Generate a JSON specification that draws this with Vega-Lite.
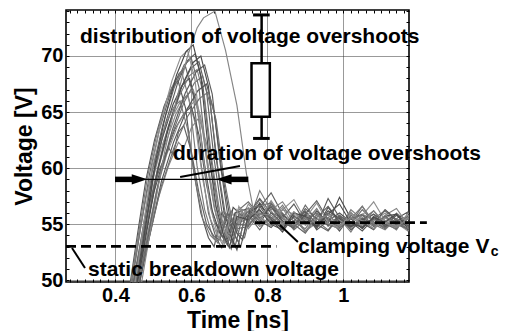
{
"$schema":"https://vega.github.io/schema/vega-lite/v6.json",
"width":343,"height":272,
"autosize":{"type":"none"},
"padding":{"left":66,"top":10,"right":96,"bottom":49},
"background":"white",
"config":{"view":{"stroke":"#000","strokeWidth":1.6},"font":"Liberation Sans",
"axis":{"labelFont":"Liberation Sans","titleFont":"Liberation Sans","labelFontWeight":"bold","titleFontWeight":"bold","labelColor":"#000","titleColor":"#000","tickColor":"#000","domain":false,"labelOverlap":false,"labelBound":false,"labelFlush":false}},
"datasets":{
"waves":[
{"w":1,"t":0.425,"v":47},{"w":1,"t":0.44,"v":50},{"w":1,"t":0.46,"v":54.5},{"w":1,"t":0.48,"v":58.9},{"w":1,"t":0.503,"v":62.5},{"w":1,"t":0.528,"v":65.5},{"w":1,"t":0.549,"v":67.2},{"w":1,"t":0.565,"v":67.8},{"w":1,"t":0.585,"v":65.3},{"w":1,"t":0.605,"v":60},{"w":1,"t":0.625,"v":56},{"w":1,"t":0.645,"v":53.8},{"w":1,"t":0.66,"v":53},{"w":1,"t":0.68,"v":56},{"w":1,"t":0.71,"v":54.6},
{"w":1,"t":0.75,"v":56.2},{"w":1,"t":0.78,"v":55},{"w":1,"t":0.81,"v":56.8},{"w":1,"t":0.84,"v":55.3},{"w":1,"t":0.87,"v":54.6},{"w":1,"t":0.9,"v":55.9},{"w":1,"t":0.93,"v":54.8},{"w":1,"t":0.96,"v":55.6},{"w":1,"t":0.99,"v":54.4},{"w":1,"t":1.02,"v":55.8},{"w":1,"t":1.05,"v":55.1},{"w":1,"t":1.08,"v":54.5},{"w":1,"t":1.11,"v":55.7},{"w":1,"t":1.14,"v":54.9},{"w":1,"t":1.17,"v":55.5},{"w":1,"t":1.2,"v":54.6},
{"w":2,"t":0.427,"v":47},{"w":2,"t":0.442,"v":50},{"w":2,"t":0.463,"v":54.6},{"w":2,"t":0.485,"v":59.3},{"w":2,"t":0.509,"v":63},{"w":2,"t":0.535,"v":66.1},{"w":2,"t":0.558,"v":67.9},{"w":2,"t":0.575,"v":68.5},{"w":2,"t":0.595,"v":66},{"w":2,"t":0.615,"v":60.2},{"w":2,"t":0.635,"v":56.3},{"w":2,"t":0.655,"v":54},{"w":2,"t":0.67,"v":53.3},{"w":2,"t":0.69,"v":55.8},{"w":2,"t":0.715,"v":55},
{"w":2,"t":0.75,"v":55.5},{"w":2,"t":0.78,"v":57.2},{"w":2,"t":0.81,"v":55.6},{"w":2,"t":0.84,"v":54.5},{"w":2,"t":0.87,"v":56.1},{"w":2,"t":0.9,"v":55.2},{"w":2,"t":0.93,"v":56.4},{"w":2,"t":0.96,"v":54.8},{"w":2,"t":0.99,"v":55.5},{"w":2,"t":1.02,"v":54.3},{"w":2,"t":1.05,"v":55.9},{"w":2,"t":1.08,"v":55.4},{"w":2,"t":1.11,"v":54.7},{"w":2,"t":1.14,"v":56},{"w":2,"t":1.17,"v":55.2},{"w":2,"t":1.2,"v":54.8},
{"w":3,"t":0.43,"v":47},{"w":3,"t":0.445,"v":50},{"w":3,"t":0.467,"v":54.8},{"w":3,"t":0.49,"v":59.5},{"w":3,"t":0.515,"v":63.3},{"w":3,"t":0.543,"v":66.5},{"w":3,"t":0.567,"v":68.4},{"w":3,"t":0.585,"v":69},{"w":3,"t":0.605,"v":66.5},{"w":3,"t":0.625,"v":60.5},{"w":3,"t":0.645,"v":56},{"w":3,"t":0.665,"v":53.8},{"w":3,"t":0.68,"v":52.9},{"w":3,"t":0.7,"v":55.6},{"w":3,"t":0.72,"v":54.6},
{"w":3,"t":0.75,"v":54.8},{"w":3,"t":0.78,"v":56.5},{"w":3,"t":0.81,"v":57.8},{"w":3,"t":0.84,"v":55.9},{"w":3,"t":0.87,"v":55},{"w":3,"t":0.9,"v":54.2},{"w":3,"t":0.93,"v":55.6},{"w":3,"t":0.96,"v":56.6},{"w":3,"t":0.99,"v":55.3},{"w":3,"t":1.02,"v":54.7},{"w":3,"t":1.05,"v":55.4},{"w":3,"t":1.08,"v":56.2},{"w":3,"t":1.11,"v":55},{"w":3,"t":1.14,"v":54.6},{"w":3,"t":1.17,"v":55.8},{"w":3,"t":1.2,"v":55.3},
{"w":4,"t":0.432,"v":47},{"w":4,"t":0.447,"v":50},{"w":4,"t":0.47,"v":54.1},{"w":4,"t":0.493,"v":58.3},{"w":4,"t":0.519,"v":61.6},{"w":4,"t":0.547,"v":64.4},{"w":4,"t":0.571,"v":65.9},{"w":4,"t":0.59,"v":66.5},{"w":4,"t":0.61,"v":64},{"w":4,"t":0.63,"v":59},{"w":4,"t":0.65,"v":55.5},{"w":4,"t":0.67,"v":53.9},{"w":4,"t":0.685,"v":53.4},{"w":4,"t":0.705,"v":56.2},{"w":4,"t":0.725,"v":55},
{"w":4,"t":0.75,"v":56.8},{"w":4,"t":0.78,"v":55.7},{"w":4,"t":0.81,"v":54.9},{"w":4,"t":0.84,"v":56.3},{"w":4,"t":0.87,"v":57.2},{"w":4,"t":0.9,"v":55.4},{"w":4,"t":0.93,"v":54.7},{"w":4,"t":0.96,"v":55.5},{"w":4,"t":0.99,"v":54.9},{"w":4,"t":1.02,"v":56.1},{"w":4,"t":1.05,"v":54.8},{"w":4,"t":1.08,"v":55.3},{"w":4,"t":1.11,"v":56},{"w":4,"t":1.14,"v":55.1},{"w":4,"t":1.17,"v":54.4},{"w":4,"t":1.2,"v":55.6},
{"w":5,"t":0.435,"v":47},{"w":5,"t":0.45,"v":50},{"w":5,"t":0.473,"v":54.5},{"w":5,"t":0.496,"v":59},{"w":5,"t":0.523,"v":62.6},{"w":5,"t":0.552,"v":65.7},{"w":5,"t":0.576,"v":67.4},{"w":5,"t":0.595,"v":68},{"w":5,"t":0.615,"v":65.5},{"w":5,"t":0.635,"v":60.3},{"w":5,"t":0.655,"v":56.2},{"w":5,"t":0.675,"v":54.2},{"w":5,"t":0.69,"v":53.5},{"w":5,"t":0.71,"v":56.5},
{"w":5,"t":0.75,"v":55.2},{"w":5,"t":0.78,"v":56.9},{"w":5,"t":0.81,"v":55.4},{"w":5,"t":0.84,"v":54.3},{"w":5,"t":0.87,"v":55.8},{"w":5,"t":0.9,"v":55},{"w":5,"t":0.93,"v":56.2},{"w":5,"t":0.96,"v":55.1},{"w":5,"t":0.99,"v":57.4},{"w":5,"t":1.02,"v":55.5},{"w":5,"t":1.05,"v":54.6},{"w":5,"t":1.08,"v":55.7},{"w":5,"t":1.11,"v":54.8},{"w":5,"t":1.14,"v":55.5},{"w":5,"t":1.17,"v":56.1},{"w":5,"t":1.2,"v":54.9},
{"w":6,"t":0.435,"v":47},{"w":6,"t":0.45,"v":50},{"w":6,"t":0.474,"v":55},{"w":6,"t":0.498,"v":59.9},{"w":6,"t":0.525,"v":63.9},{"w":6,"t":0.555,"v":67.2},{"w":6,"t":0.581,"v":69.2},{"w":6,"t":0.6,"v":69.8},{"w":6,"t":0.62,"v":67.2},{"w":6,"t":0.64,"v":61},{"w":6,"t":0.66,"v":56.5},{"w":6,"t":0.68,"v":54},{"w":6,"t":0.695,"v":53.1},{"w":6,"t":0.715,"v":56},
{"w":6,"t":0.75,"v":57},{"w":6,"t":0.78,"v":55.8},{"w":6,"t":0.81,"v":56.5},{"w":6,"t":0.84,"v":55.2},{"w":6,"t":0.87,"v":54.8},{"w":6,"t":0.9,"v":56.7},{"w":6,"t":0.93,"v":55.3},{"w":6,"t":0.96,"v":54.5},{"w":6,"t":0.99,"v":55.8},{"w":6,"t":1.02,"v":55},{"w":6,"t":1.05,"v":56.3},{"w":6,"t":1.08,"v":55.2},{"w":6,"t":1.11,"v":54.6},{"w":6,"t":1.14,"v":55.4},{"w":6,"t":1.17,"v":54.9},{"w":6,"t":1.2,"v":55.9},
{"w":7,"t":0.437,"v":47},{"w":7,"t":0.452,"v":50},{"w":7,"t":0.476,"v":54.3},{"w":7,"t":0.501,"v":58.5},{"w":7,"t":0.529,"v":61.9},{"w":7,"t":0.559,"v":64.8},{"w":7,"t":0.585,"v":66.4},{"w":7,"t":0.605,"v":67},{"w":7,"t":0.625,"v":64.5},{"w":7,"t":0.645,"v":59.5},{"w":7,"t":0.665,"v":55.8},{"w":7,"t":0.685,"v":54},{"w":7,"t":0.7,"v":53.6},{"w":7,"t":0.72,"v":56.3},
{"w":7,"t":0.75,"v":54.6},{"w":7,"t":0.78,"v":55.9},{"w":7,"t":0.81,"v":56.3},{"w":7,"t":0.84,"v":57},{"w":7,"t":0.87,"v":55.5},{"w":7,"t":0.9,"v":54.4},{"w":7,"t":0.93,"v":55.1},{"w":7,"t":0.96,"v":56},{"w":7,"t":0.99,"v":55.4},{"w":7,"t":1.02,"v":54.8},{"w":7,"t":1.05,"v":55.6},{"w":7,"t":1.08,"v":54.9},{"w":7,"t":1.11,"v":55.8},{"w":7,"t":1.14,"v":56.4},{"w":7,"t":1.17,"v":55},{"w":7,"t":1.2,"v":54.5},
{"w":8,"t":0.44,"v":47},{"w":8,"t":0.455,"v":50},{"w":8,"t":0.48,"v":55.1},{"w":8,"t":0.505,"v":60.1},{"w":8,"t":0.533,"v":64.1},{"w":8,"t":0.564,"v":67.6},{"w":8,"t":0.59,"v":69.6},{"w":8,"t":0.61,"v":70.2},{"w":8,"t":0.63,"v":67.5},{"w":8,"t":0.65,"v":61.2},{"w":8,"t":0.67,"v":56.4},{"w":8,"t":0.69,"v":53.9},{"w":8,"t":0.705,"v":52.8},{"w":8,"t":0.725,"v":55.9},
{"w":8,"t":0.75,"v":55.8},{"w":8,"t":0.78,"v":54.5},{"w":8,"t":0.81,"v":56},{"w":8,"t":0.84,"v":55.6},{"w":8,"t":0.87,"v":56.8},{"w":8,"t":0.9,"v":55.1},{"w":8,"t":0.93,"v":54.9},{"w":8,"t":0.96,"v":57.3},{"w":8,"t":0.99,"v":55.6},{"w":8,"t":1.02,"v":54.9},{"w":8,"t":1.05,"v":55.2},{"w":8,"t":1.08,"v":55.9},{"w":8,"t":1.11,"v":55.3},{"w":8,"t":1.14,"v":54.7},{"w":8,"t":1.17,"v":55.5},{"w":8,"t":1.2,"v":56.2},
{"w":9,"t":0.44,"v":47},{"w":9,"t":0.455,"v":50},{"w":9,"t":0.478,"v":53.9},{"w":9,"t":0.501,"v":57.8},{"w":9,"t":0.528,"v":60.9},{"w":9,"t":0.557,"v":63.5},{"w":9,"t":0.581,"v":64.9},{"w":9,"t":0.6,"v":65.5},{"w":9,"t":0.62,"v":63},{"w":9,"t":0.64,"v":58.5},{"w":9,"t":0.66,"v":55.3},{"w":9,"t":0.68,"v":54},{"w":9,"t":0.695,"v":53.7},{"w":9,"t":0.715,"v":56},
{"w":9,"t":0.75,"v":56.4},{"w":9,"t":0.78,"v":55.3},{"w":9,"t":0.81,"v":54.7},{"w":9,"t":0.84,"v":55.8},{"w":9,"t":0.87,"v":55},{"w":9,"t":0.9,"v":56.1},{"w":9,"t":0.93,"v":54.5},{"w":9,"t":0.96,"v":55.3},{"w":9,"t":0.99,"v":56},{"w":9,"t":1.02,"v":55.2},{"w":9,"t":1.05,"v":54.4},{"w":9,"t":1.08,"v":55.5},{"w":9,"t":1.11,"v":54.9},{"w":9,"t":1.14,"v":55.8},{"w":9,"t":1.17,"v":55.1},{"w":9,"t":1.2,"v":54.6},
{"w":10,"t":0.442,"v":47},{"w":10,"t":0.457,"v":50},{"w":10,"t":0.482,"v":54.7},{"w":10,"t":0.508,"v":59.4},{"w":10,"t":0.536,"v":63.2},{"w":10,"t":0.568,"v":66.4},{"w":10,"t":0.594,"v":68.2},{"w":10,"t":0.615,"v":68.8},{"w":10,"t":0.635,"v":66.2},{"w":10,"t":0.655,"v":60.5},{"w":10,"t":0.675,"v":56},{"w":10,"t":0.695,"v":54},{"w":10,"t":0.71,"v":53.2},{"w":10,"t":0.73,"v":56.4},
{"w":10,"t":0.75,"v":55.1},{"w":10,"t":0.78,"v":58},{"w":10,"t":0.81,"v":56.2},{"w":10,"t":0.84,"v":54.9},{"w":10,"t":0.87,"v":55.6},{"w":10,"t":0.9,"v":54.3},{"w":10,"t":0.93,"v":55.8},{"w":10,"t":0.96,"v":55},{"w":10,"t":0.99,"v":54.6},{"w":10,"t":1.02,"v":56.3},{"w":10,"t":1.05,"v":55.4},{"w":10,"t":1.08,"v":54.8},{"w":10,"t":1.11,"v":55.2},{"w":10,"t":1.14,"v":54.5},{"w":10,"t":1.17,"v":56},{"w":10,"t":1.2,"v":55.3},
{"w":11,"t":0.443,"v":47},{"w":11,"t":0.458,"v":50},{"w":11,"t":0.484,"v":54.9},{"w":11,"t":0.51,"v":59.8},{"w":11,"t":0.539,"v":63.7},{"w":11,"t":0.571,"v":67},{"w":11,"t":0.599,"v":68.9},{"w":11,"t":0.62,"v":69.5},{"w":11,"t":0.64,"v":66.8},{"w":11,"t":0.66,"v":60.8},{"w":11,"t":0.68,"v":56.2},{"w":11,"t":0.7,"v":54.1},{"w":11,"t":0.715,"v":53},{"w":11,"t":0.735,"v":55.8},
{"w":11,"t":0.78,"v":56.6},{"w":11,"t":0.81,"v":55.1},{"w":11,"t":0.84,"v":56},{"w":11,"t":0.87,"v":54.8},{"w":11,"t":0.9,"v":55.9},{"w":11,"t":0.93,"v":57.1},{"w":11,"t":0.96,"v":55.4},{"w":11,"t":0.99,"v":54.7},{"w":11,"t":1.02,"v":55.5},{"w":11,"t":1.05,"v":55.9},{"w":11,"t":1.08,"v":54.8},{"w":11,"t":1.11,"v":55.6},{"w":11,"t":1.14,"v":55},{"w":11,"t":1.17,"v":54.6},{"w":11,"t":1.2,"v":55.4},
{"w":12,"t":0.445,"v":47},{"w":12,"t":0.46,"v":50},{"w":12,"t":0.484,"v":54},{"w":12,"t":0.508,"v":58},{"w":12,"t":0.535,"v":61.2},{"w":12,"t":0.565,"v":63.9},{"w":12,"t":0.591,"v":65.4},{"w":12,"t":0.61,"v":66},{"w":12,"t":0.63,"v":63.6},{"w":12,"t":0.65,"v":59},{"w":12,"t":0.67,"v":55.6},{"w":12,"t":0.69,"v":54.2},{"w":12,"t":0.705,"v":53.8},{"w":12,"t":0.725,"v":56.6},
{"w":12,"t":0.75,"v":55},{"w":12,"t":0.78,"v":56.2},{"w":12,"t":0.81,"v":55.3},{"w":12,"t":0.84,"v":56.5},{"w":12,"t":0.87,"v":54.7},{"w":12,"t":0.9,"v":55.6},{"w":12,"t":0.93,"v":56},{"w":12,"t":0.96,"v":54.9},{"w":12,"t":0.99,"v":55.4},{"w":12,"t":1.02,"v":54.6},{"w":12,"t":1.05,"v":55.8},{"w":12,"t":1.08,"v":57},{"w":12,"t":1.11,"v":55.3},{"w":12,"t":1.14,"v":54.8},{"w":12,"t":1.17,"v":55.6},{"w":12,"t":1.2,"v":55},
{"w":13,"t":0.445,"v":47},{"w":13,"t":0.46,"v":50},{"w":13,"t":0.486,"v":55},{"w":13,"t":0.513,"v":60},{"w":13,"t":0.543,"v":64},{"w":13,"t":0.576,"v":67.4},{"w":13,"t":0.604,"v":69.4},{"w":13,"t":0.625,"v":70},{"w":13,"t":0.645,"v":67.3},{"w":13,"t":0.665,"v":61},{"w":13,"t":0.685,"v":56.3},{"w":13,"t":0.705,"v":53.9},{"w":13,"t":0.72,"v":52.7},{"w":13,"t":0.74,"v":55.5},
{"w":13,"t":0.78,"v":56.8},{"w":13,"t":0.81,"v":55.4},{"w":13,"t":0.84,"v":54.6},{"w":13,"t":0.87,"v":55.7},{"w":13,"t":0.9,"v":55.2},{"w":13,"t":0.93,"v":54.8},{"w":13,"t":0.96,"v":56.2},{"w":13,"t":0.99,"v":55.5},{"w":13,"t":1.02,"v":54.8},{"w":13,"t":1.05,"v":55.3},{"w":13,"t":1.08,"v":54.6},{"w":13,"t":1.11,"v":55.7},{"w":13,"t":1.14,"v":55.9},{"w":13,"t":1.17,"v":54.9},{"w":13,"t":1.2,"v":55.5},
{"w":14,"t":0.447,"v":47},{"w":14,"t":0.462,"v":50},{"w":14,"t":0.489,"v":54.6},{"w":14,"t":0.516,"v":59.1},{"w":14,"t":0.546,"v":62.7},{"w":14,"t":0.58,"v":65.8},{"w":14,"t":0.608,"v":67.6},{"w":14,"t":0.63,"v":68.2},{"w":14,"t":0.65,"v":65.6},{"w":14,"t":0.67,"v":60},{"w":14,"t":0.69,"v":55.8},{"w":14,"t":0.71,"v":54.1},{"w":14,"t":0.725,"v":53.4},{"w":14,"t":0.745,"v":56.2},
{"w":14,"t":0.78,"v":55.3},{"w":14,"t":0.81,"v":56.9},{"w":14,"t":0.84,"v":55.7},{"w":14,"t":0.87,"v":54.5},{"w":14,"t":0.9,"v":55.4},{"w":14,"t":0.93,"v":56},{"w":14,"t":0.96,"v":54.9},{"w":14,"t":0.99,"v":55.8},{"w":14,"t":1.02,"v":55.1},{"w":14,"t":1.05,"v":56.6},{"w":14,"t":1.08,"v":55.2},{"w":14,"t":1.11,"v":54.7},{"w":14,"t":1.14,"v":55.4},{"w":14,"t":1.17,"v":55},{"w":14,"t":1.2,"v":56.1},
{"w":15,"t":0.448,"v":47},{"w":15,"t":0.463,"v":50},{"w":15,"t":0.488,"v":53.6},{"w":15,"t":0.513,"v":57.3},{"w":15,"t":0.54,"v":60.2},{"w":15,"t":0.566,"v":62.3},{"w":15,"t":0.58,"v":61.8},{"w":15,"t":0.6,"v":63.6},{"w":15,"t":0.62,"v":64.5},{"w":15,"t":0.64,"v":62.2},{"w":15,"t":0.66,"v":58.3},{"w":15,"t":0.68,"v":55.3},{"w":15,"t":0.7,"v":54.2},{"w":15,"t":0.715,"v":53.9},{"w":15,"t":0.735,"v":56.3},
{"w":15,"t":0.78,"v":55.6},{"w":15,"t":0.81,"v":54.8},{"w":15,"t":0.84,"v":56.3},{"w":15,"t":0.87,"v":55.9},{"w":15,"t":0.9,"v":54.4},{"w":15,"t":0.93,"v":55.5},{"w":15,"t":0.96,"v":55},{"w":15,"t":0.99,"v":54.6},{"w":15,"t":1.02,"v":56},{"w":15,"t":1.05,"v":55.3},{"w":15,"t":1.08,"v":54.9},{"w":15,"t":1.11,"v":55.6},{"w":15,"t":1.14,"v":54.8},{"w":15,"t":1.17,"v":55.2},{"w":15,"t":1.2,"v":54.5},
{"w":16,"t":0.45,"v":47},{"w":16,"t":0.465,"v":50},{"w":16,"t":0.492,"v":54.8},{"w":16,"t":0.519,"v":59.6},{"w":16,"t":0.55,"v":63.4},{"w":16,"t":0.584,"v":66.7},{"w":16,"t":0.613,"v":68.6},{"w":16,"t":0.635,"v":69.2},{"w":16,"t":0.655,"v":66.6},{"w":16,"t":0.675,"v":60.6},{"w":16,"t":0.695,"v":56},{"w":16,"t":0.715,"v":54},{"w":16,"t":0.73,"v":53},{"w":16,"t":0.75,"v":55.9},
{"w":16,"t":0.78,"v":57.3},{"w":16,"t":0.81,"v":56},{"w":16,"t":0.84,"v":55.1},{"w":16,"t":0.87,"v":54.7},{"w":16,"t":0.9,"v":56.4},{"w":16,"t":0.93,"v":55.5},{"w":16,"t":0.96,"v":54.9},{"w":16,"t":0.99,"v":55.7},{"w":16,"t":1.02,"v":54.5},{"w":16,"t":1.05,"v":55.4},{"w":16,"t":1.08,"v":55.9},{"w":16,"t":1.11,"v":54.8},{"w":16,"t":1.14,"v":55.3},{"w":16,"t":1.17,"v":55.7},{"w":16,"t":1.2,"v":54.9},
{"w":17,"t":0.45,"v":47},{"w":17,"t":0.465,"v":50},{"w":17,"t":0.493,"v":54.4},{"w":17,"t":0.521,"v":58.8},{"w":17,"t":0.553,"v":62.3},{"w":17,"t":0.588,"v":65.2},{"w":17,"t":0.617,"v":66.9},{"w":17,"t":0.64,"v":67.5},{"w":17,"t":0.66,"v":65},{"w":17,"t":0.68,"v":59.8},{"w":17,"t":0.7,"v":55.9},{"w":17,"t":0.72,"v":54.2},{"w":17,"t":0.735,"v":53.6},{"w":17,"t":0.755,"v":56.4},
{"w":17,"t":0.78,"v":55.5},{"w":17,"t":0.81,"v":56.6},{"w":17,"t":0.84,"v":55.3},{"w":17,"t":0.87,"v":54.9},{"w":17,"t":0.9,"v":55.8},{"w":17,"t":0.93,"v":54.6},{"w":17,"t":0.96,"v":56.5},{"w":17,"t":0.99,"v":55.2},{"w":17,"t":1.02,"v":54.8},{"w":17,"t":1.05,"v":55.5},{"w":17,"t":1.08,"v":55},{"w":17,"t":1.11,"v":56.3},{"w":17,"t":1.14,"v":55.4},{"w":17,"t":1.17,"v":54.5},{"w":17,"t":1.2,"v":55.7},
{"w":18,"t":0.428,"v":47},{"w":18,"t":0.443,"v":50},{"w":18,"t":0.463,"v":54},{"w":18,"t":0.484,"v":58},{"w":18,"t":0.507,"v":61.2},{"w":18,"t":0.532,"v":63.9},{"w":18,"t":0.553,"v":65.4},{"w":18,"t":0.57,"v":66},{"w":18,"t":0.59,"v":63.5},{"w":18,"t":0.61,"v":59},{"w":18,"t":0.63,"v":55.5},{"w":18,"t":0.65,"v":54},{"w":18,"t":0.665,"v":53.5},{"w":18,"t":0.685,"v":56.2},{"w":18,"t":0.71,"v":55.2},
{"w":18,"t":0.75,"v":55.9},{"w":18,"t":0.78,"v":54.8},{"w":18,"t":0.81,"v":55.5},{"w":18,"t":0.84,"v":56.7},{"w":18,"t":0.87,"v":55.2},{"w":18,"t":0.9,"v":54.6},{"w":18,"t":0.93,"v":55.9},{"w":18,"t":0.96,"v":55.3},{"w":18,"t":0.99,"v":54.9},{"w":18,"t":1.02,"v":55.5},{"w":18,"t":1.05,"v":56.6},{"w":18,"t":1.08,"v":55},{"w":18,"t":1.11,"v":54.5},{"w":18,"t":1.14,"v":55.5},{"w":18,"t":1.17,"v":55},{"w":18,"t":1.2,"v":55.8},
{"w":19,"t":0.433,"v":47},{"w":19,"t":0.448,"v":50},{"w":19,"t":0.469,"v":53.5},{"w":19,"t":0.49,"v":56.9},{"w":19,"t":0.514,"v":59.7},{"w":19,"t":0.54,"v":61.8},{"w":19,"t":0.552,"v":61.2},{"w":19,"t":0.566,"v":63.2},{"w":19,"t":0.58,"v":63.8},{"w":19,"t":0.6,"v":61.5},{"w":19,"t":0.62,"v":57.8},{"w":19,"t":0.64,"v":55},{"w":19,"t":0.66,"v":53.9},{"w":19,"t":0.675,"v":53.6},{"w":19,"t":0.695,"v":56},{"w":19,"t":0.715,"v":55},
{"w":19,"t":0.75,"v":54.9},{"w":19,"t":0.78,"v":56},{"w":19,"t":0.81,"v":55.6},{"w":19,"t":0.84,"v":54.8},{"w":19,"t":0.87,"v":55.3},{"w":19,"t":0.9,"v":56.2},{"w":19,"t":0.93,"v":55},{"w":19,"t":0.96,"v":54.4},{"w":19,"t":0.99,"v":55.7},{"w":19,"t":1.02,"v":55.2},{"w":19,"t":1.05,"v":54.8},{"w":19,"t":1.08,"v":55.5},{"w":19,"t":1.11,"v":56.2},{"w":19,"t":1.14,"v":55.3},{"w":19,"t":1.17,"v":54.8},{"w":19,"t":1.2,"v":55.1},
{"w":20,"t":0.438,"v":47},{"w":20,"t":0.453,"v":50},{"w":20,"t":0.475,"v":55.1},{"w":20,"t":0.497,"v":60.3},{"w":20,"t":0.522,"v":64.4},{"w":20,"t":0.549,"v":67.8},{"w":20,"t":0.572,"v":69.9},{"w":20,"t":0.59,"v":70.5},{"w":20,"t":0.61,"v":67.8},{"w":20,"t":0.63,"v":61.3},{"w":20,"t":0.65,"v":56.5},{"w":20,"t":0.67,"v":54},{"w":20,"t":0.685,"v":53},{"w":20,"t":0.705,"v":56},{"w":20,"t":0.725,"v":55.1},
{"w":20,"t":0.75,"v":56.5},{"w":20,"t":0.78,"v":55.4},{"w":20,"t":0.81,"v":57.1},{"w":20,"t":0.84,"v":55.6},{"w":20,"t":0.87,"v":54.9},{"w":20,"t":0.9,"v":55.5},{"w":20,"t":0.93,"v":56.9},{"w":20,"t":0.96,"v":55.1},{"w":20,"t":0.99,"v":54.7},{"w":20,"t":1.02,"v":55.9},{"w":20,"t":1.05,"v":55.3},{"w":20,"t":1.08,"v":54.6},{"w":20,"t":1.11,"v":55.6},{"w":20,"t":1.14,"v":55.1},{"w":20,"t":1.17,"v":55.8},{"w":20,"t":1.2,"v":54.7},
{"w":21,"t":0.443,"v":47},{"w":21,"t":0.458,"v":50},{"w":21,"t":0.482,"v":55.3},{"w":21,"t":0.505,"v":60.5},{"w":21,"t":0.532,"v":64.7},{"w":21,"t":0.561,"v":68.3},{"w":21,"t":0.586,"v":70.4},{"w":21,"t":0.605,"v":71},{"w":21,"t":0.625,"v":68.2},{"w":21,"t":0.645,"v":61.5},{"w":21,"t":0.665,"v":56.6},{"w":21,"t":0.685,"v":54},{"w":21,"t":0.7,"v":52.9},{"w":21,"t":0.72,"v":55.7},
{"w":21,"t":0.75,"v":55.4},{"w":21,"t":0.78,"v":56.3},{"w":21,"t":0.81,"v":55},{"w":21,"t":0.84,"v":54.5},{"w":21,"t":0.87,"v":56},{"w":21,"t":0.9,"v":55.7},{"w":21,"t":0.93,"v":54.8},{"w":21,"t":0.96,"v":55.9},{"w":21,"t":0.99,"v":56.8},{"w":21,"t":1.02,"v":55.1},{"w":21,"t":1.05,"v":54.7},{"w":21,"t":1.08,"v":55.6},{"w":21,"t":1.11,"v":55.2},{"w":21,"t":1.14,"v":55.9},{"w":21,"t":1.17,"v":54.6},{"w":21,"t":1.2,"v":55.4},
{"w":22,"t":0.447,"v":47},{"w":22,"t":0.462,"v":50},{"w":22,"t":0.491,"v":54.2},{"w":22,"t":0.521,"v":58.4},{"w":22,"t":0.554,"v":61.8},{"w":22,"t":0.59,"v":64.6},{"w":22,"t":0.621,"v":66.2},{"w":22,"t":0.645,"v":66.8},{"w":22,"t":0.665,"v":64.3},{"w":22,"t":0.685,"v":59.3},{"w":22,"t":0.705,"v":55.7},{"w":22,"t":0.725,"v":54.2},{"w":22,"t":0.74,"v":53.8},{"w":22,"t":0.76,"v":56.5},
{"w":22,"t":0.81,"v":56.9},{"w":22,"t":0.84,"v":55.5},{"w":22,"t":0.87,"v":54.8},{"w":22,"t":0.9,"v":55.6},{"w":22,"t":0.93,"v":55.1},{"w":22,"t":0.96,"v":56},{"w":22,"t":0.99,"v":54.7},{"w":22,"t":1.02,"v":55.5},{"w":22,"t":1.05,"v":55.8},{"w":22,"t":1.08,"v":54.9},{"w":22,"t":1.11,"v":55.7},{"w":22,"t":1.14,"v":55.1},{"w":22,"t":1.17,"v":54.6},{"w":22,"t":1.2,"v":55.4},
{"w":23,"t":0.455,"v":47},{"w":23,"t":0.47,"v":50},{"w":23,"t":0.5,"v":56},{"w":23,"t":0.53,"v":61.5},{"w":23,"t":0.56,"v":66},{"w":23,"t":0.59,"v":70},{"w":23,"t":0.615,"v":72.5},{"w":23,"t":0.632,"v":73.4},{"w":23,"t":0.662,"v":74},{"w":23,"t":0.69,"v":70.5},{"w":23,"t":0.72,"v":65.6},{"w":23,"t":0.745,"v":59.5},{"w":23,"t":0.765,"v":56},
{"w":23,"t":0.81,"v":55.8},{"w":23,"t":0.84,"v":55},{"w":23,"t":0.87,"v":56.1},{"w":23,"t":0.9,"v":54.9},{"w":23,"t":0.93,"v":55.4},{"w":23,"t":0.96,"v":55.8},{"w":23,"t":0.99,"v":54.8},{"w":23,"t":1.02,"v":55.6},{"w":23,"t":1.05,"v":55},{"w":23,"t":1.08,"v":56.2},{"w":23,"t":1.11,"v":55.1},{"w":23,"t":1.14,"v":54.7},{"w":23,"t":1.17,"v":55.5},{"w":23,"t":1.2,"v":55}
]},
"resolve":{"axis":{"x":"independent","y":"independent"}},
"layer":[
{"data":{"name":"waves"},"mark":{"type":"line","clip":true,"strokeWidth":1.15},
"encoding":{
"x":{"field":"t","type":"quantitative","scale":{"domain":[0.27,1.173],"nice":false,"zero":false},
"axis":{"orient":"bottom","values":[0.28,0.3,0.32,0.34,0.36,0.38,0.4,0.42,0.44,0.46,0.48,0.5,0.52,0.54,0.56,0.58,0.6,0.62,0.64,0.66,0.68,0.7,0.72,0.74,0.76,0.78,0.8,0.82,0.84,0.86,0.88,0.9,0.92,0.94,0.96,0.98,1,1.02,1.04,1.06,1.08,1.1,1.12,1.14,1.16],
"labelExpr":"abs(datum.value*5-round(datum.value*5))<0.001 ? format(datum.value,'~g') : ''",
"tickSize":-3,"labelPadding":6,"labelFontSize":20,"grid":true,"gridColor":"#333","gridDash":[1,1],"gridWidth":1,
"gridOpacity":{"condition":{"test":"abs(datum.value*5-round(datum.value*5))<0.001","value":1},"value":0},
"title":"Time [ns]","titleFontSize":23,"titlePadding":4}},
"y":{"field":"v","type":"quantitative","scale":{"domain":[49.85,74.1],"nice":false,"zero":false},
"axis":{"orient":"left","values":[50,51,52,53,54,55,56,57,58,59,60,61,62,63,64,65,66,67,68,69,70,71,72,73,74],
"labelExpr":"datum.value % 5 == 0 ? datum.value : ''",
"tickSize":-3,"labelPadding":6,"labelFontSize":20,"grid":true,"gridColor":"#333","gridDash":[1,1],"gridWidth":1,
"gridOpacity":{"condition":{"test":"datum.value % 5 == 0","value":1},"value":0},
"title":"Voltage [V]","titleFontSize":23,"titlePadding":4}},
"color":{"field":"w","type":"nominal","legend":null,"scale":{"range":["#555555","#7a7a7a","#626262","#909090","#4a4a4a","#6e6e6e","#858585","#5c5c5c"]}}}},
{"data":{"values":[{"x":0.27,"x2":0.824,"y":53.03},{"x":0.7675,"x2":1.22,"y":55.14}]},
"mark":{"type":"rule","strokeDash":[10,5],"strokeWidth":2.6,"color":"#000"},
"encoding":{
"x":{"field":"x","type":"quantitative","axis":{"orient":"top","values":[0.28,0.3,0.32,0.34,0.36,0.38,0.4,0.42,0.44,0.46,0.48,0.5,0.52,0.54,0.56,0.58,0.6,0.62,0.64,0.66,0.68,0.7,0.72,0.74,0.76,0.78,0.8,0.82,0.84,0.86,0.88,0.9,0.92,0.94,0.96,0.98,1,1.02,1.04,1.06,1.08,1.1,1.12,1.14,1.16],"labels":false,"tickSize":-3,"grid":false,"title":null}},
"x2":{"field":"x2"},
"y":{"field":"y","type":"quantitative","axis":{"orient":"right","values":[50,51,52,53,54,55,56,57,58,59,60,61,62,63,64,65,66,67,68,69,70,71,72,73,74],"labels":false,"tickSize":-3,"grid":false,"title":null}}}},
{"data":{"values":[{"x":0.46,"x2":0.69,"y":59.0}]},
"mark":{"type":"rule","strokeWidth":1.2,"color":"#000"},
"encoding":{"x":{"field":"x","type":"quantitative","axis":null},"x2":{"field":"x2"},"y":{"field":"y","type":"quantitative","axis":null}}},
{"data":{"values":[{"x":0.399,"x2":0.447,"y":59.0},{"x":0.702,"x2":0.75,"y":59.0}]},
"mark":{"type":"rule","strokeWidth":5.5,"color":"#000"},
"encoding":{"x":{"field":"x","type":"quantitative","axis":null},"x2":{"field":"x2"},"y":{"field":"y","type":"quantitative","axis":null}}},
{"data":{"values":[{"x":0.4635,"y":59.0,"d":"right"},{"x":0.6855,"y":59.0,"d":"left"}]},
"mark":{"type":"point","filled":true,"color":"#000","opacity":1,"size":240},
"encoding":{"x":{"field":"x","type":"quantitative","axis":null},"y":{"field":"y","type":"quantitative","axis":null},
"shape":{"field":"d","type":"nominal","legend":null,"scale":{"domain":["right","left"],"range":["M1,0L-1,-0.65L-1,0.65Z","M-1,0L1,-0.65L1,0.65Z"]}}}},
{"data":{"values":[{"x":0.5705,"y":59.21,"x2":0.728,"y2":60.19},{"x":0.2858,"y":52.88,"x2":0.32,"y2":51.1},{"x":0.833,"y":54.93,"x2":0.8805,"y2":53.42}]},
"mark":{"type":"rule","strokeWidth":2,"color":"#000"},
"encoding":{"x":{"field":"x","type":"quantitative","axis":null},"x2":{"field":"x2"},"y":{"field":"y","type":"quantitative","axis":null},"y2":{"field":"y2"}}},
{"data":{"values":[{"t":0.3068,"v":71.16,"label":"distribution of voltage overshoots"},{"t":0.5516,"v":60.73,"label":"duration of voltage overshoots"},{"t":0.8808,"v":52.41,"label":"clamping voltage V"},{"t":0.3279,"v":50.38,"label":"static breakdown voltage"}]},
"mark":{"type":"text","align":"left","baseline":"alphabetic","fontSize":21,"fontWeight":"bold","font":"Liberation Sans","color":"#000"},
"encoding":{"x":{"field":"t","type":"quantitative","axis":null},"y":{"field":"v","type":"quantitative","axis":null},"text":{"field":"label"}}},
{"data":{"values":[{"t":1.388,"v":52.2,"label":"c"}]},
"mark":{"type":"text","align":"left","baseline":"alphabetic","fontSize":14,"fontWeight":"bold","font":"Liberation Sans","color":"#000"},
"encoding":{"x":{"field":"t","type":"quantitative","axis":null},"y":{"field":"v","type":"quantitative","axis":null},"text":{"field":"label"}}},
{"data":{"values":[{"x":0.785,"y":62.65,"y2":73.66}]},
"mark":{"type":"rule","strokeWidth":2.5,"color":"#000"},
"encoding":{"x":{"field":"x","type":"quantitative","axis":null},"y":{"field":"y","type":"quantitative","axis":null},"y2":{"field":"y2"}}},
{"data":{"values":[{"x":0.7625,"x2":0.8063,"y":73.66},{"x":0.7625,"x2":0.8063,"y":62.65}]},
"mark":{"type":"rule","strokeWidth":3,"color":"#000"},
"encoding":{"x":{"field":"x","type":"quantitative","axis":null},"x2":{"field":"x2"},"y":{"field":"y","type":"quantitative","axis":null}}},
{"data":{"values":[{"x":0.7584,"x2":0.8066,"y":64.58,"y2":69.35}]},
"mark":{"type":"rect","fill":"#fff","stroke":"#000","strokeWidth":2.5},
"encoding":{"x":{"field":"x","type":"quantitative","axis":null},"x2":{"field":"x2"},"y":{"field":"y","type":"quantitative","axis":null},"y2":{"field":"y2"}}}
]
}
